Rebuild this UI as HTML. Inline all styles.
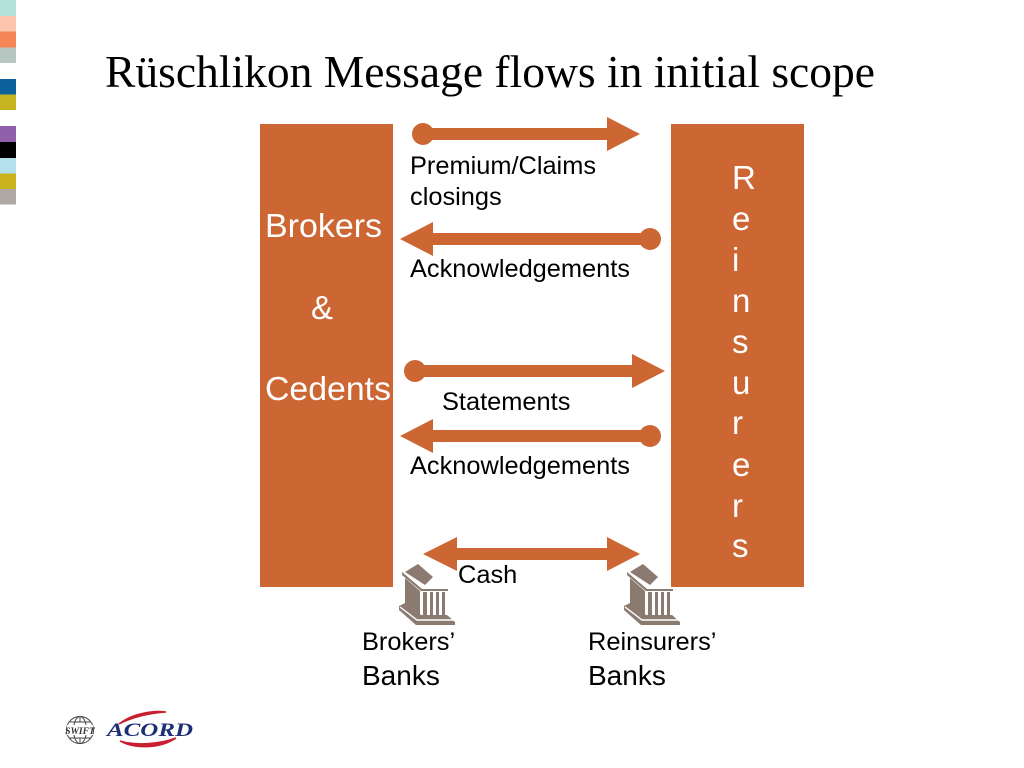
<!DOCTYPE html>
<html lang="en">
<head>
<meta charset="utf-8">
<title>Rüschlikon Message flows in initial scope</title>
<style>
html,body{margin:0;padding:0;background:#fff;width:1024px;height:768px;overflow:hidden}
svg{display:block}
text{font-family:"Liberation Sans",Arial,sans-serif;fill:#000}
.title{font-family:"Liberation Serif","Times New Roman",serif;font-size:46px}
.w{fill:#fff;font-size:33px}
.l{font-size:25.4px}
.b{font-size:28px}
.s{font-size:25.4px}
</style>
</head>
<body>
<svg width="1024" height="768" viewBox="0 0 1024 768" xmlns="http://www.w3.org/2000/svg">
<rect width="1024" height="768" fill="#fff"/>
<!-- side stripes -->
<rect x="0" y="0" width="16" height="16" fill="#b2e2da"/>
<rect x="0" y="16" width="16" height="15.5" fill="#fdc4ae"/>
<rect x="0" y="31.5" width="16" height="16" fill="#f58556"/>
<rect x="0" y="47.5" width="16" height="15.5" fill="#b8c6c2"/>
<rect x="0" y="79" width="16" height="15.5" fill="#0b6199"/>
<rect x="0" y="94.5" width="16" height="15.5" fill="#c5b420"/>
<rect x="0" y="126" width="16" height="16" fill="#9060ab"/>
<rect x="0" y="142" width="16" height="16" fill="#000"/>
<rect x="0" y="158" width="16" height="15.5" fill="#b4e0ee"/>
<rect x="0" y="173.5" width="16" height="15.5" fill="#cbb31d"/>
<rect x="0" y="189" width="16" height="15.5" fill="#b0a8a2"/>

<text class="title" x="105" y="87" textLength="770" lengthAdjust="spacingAndGlyphs">Rüschlikon Message flows in initial scope</text>

<!-- boxes -->
<rect x="260" y="124" width="133" height="463" fill="#cc6633"/>
<rect x="671" y="124" width="133" height="463" fill="#cc6633"/>

<text class="w" x="265" y="237" textLength="117" lengthAdjust="spacingAndGlyphs">Brokers</text>
<text class="w" x="322" y="319" text-anchor="middle">&amp;</text>
<text class="w" x="265" y="400" textLength="126" lengthAdjust="spacingAndGlyphs">Cedents</text>

<text class="w" x="732" y="189">R</text>
<text class="w" x="732" y="230">e</text>
<text class="w" x="732" y="271">i</text>
<text class="w" x="732" y="312">n</text>
<text class="w" x="732" y="353">s</text>
<text class="w" x="732" y="394">u</text>
<text class="w" x="732" y="434">r</text>
<text class="w" x="732" y="476">e</text>
<text class="w" x="732" y="517">r</text>
<text class="w" x="732" y="557">s</text>

<!-- arrows -->
<g fill="#cc6633">
<circle cx="423" cy="134" r="11"/>
<path d="M423 128H607V117L640 134L607 151V140H423Z"/>
<circle cx="650" cy="239" r="11"/>
<path d="M650 233H433V222L400 239L433 256V245H650Z"/>
<circle cx="415" cy="371" r="11"/>
<path d="M415 365H632V354L665 371L632 388V377H415Z"/>
<circle cx="650" cy="436" r="11"/>
<path d="M650 430H433V419L400 436L433 453V442H650Z"/>
<path d="M423 554L457 537V548H607V537L640 554L607 571V560H457V571Z"/>
</g>

<text class="l" x="410" y="174" textLength="186" lengthAdjust="spacingAndGlyphs">Premium/Claims</text>
<text class="l" x="410" y="205">closings</text>
<text class="l" x="410" y="277" textLength="220" lengthAdjust="spacingAndGlyphs">Acknowledgements</text>
<text class="l" x="442" y="410">Statements</text>
<text class="l" x="410" y="474" textLength="220" lengthAdjust="spacingAndGlyphs">Acknowledgements</text>
<text class="l" x="458" y="583">Cash</text>

<!-- bank icons -->
<defs>
<g id="bank">
<path d="M1 9L18 0L34 13L49 27V30H46V52L56 59V62H16L-1 47V42L5 39V14Z" fill="#fff"/>
<path d="M5 9L18 1L33 14L25 22Z" fill="#8a7a70"/>
<path d="M2 9L22 26H48V28H21L2 12Z" fill="#8a7a70"/>
<path d="M5 15L20 28V53L5 41Z" fill="#8a7a70"/>
<path d="M23 29H27V52H23ZM30 29H33V52H30ZM36 29H39V52H36ZM42 29H45V52H42Z" fill="#8a7a70"/>
<path d="M-1 43L5 40L21 52H47L55 59V62H16L-1 47Z" fill="#8a7a70"/>
<path d="M0 44L17 57H54" fill="none" stroke="#fff" stroke-width="1.4"/>
</g>
</defs>
<use href="#bank" x="400" y="563"/>
<use href="#bank" x="625" y="563"/>

<text class="s" x="362" y="650">Brokers’</text>
<text class="b" x="362" y="685">Banks</text>
<text class="s" x="588" y="650">Reinsurers’</text>
<text class="b" x="588" y="685">Banks</text>

<!-- SWIFT globe -->
<g fill="none" stroke="#444" stroke-width="1">
<circle cx="80" cy="730" r="13.5"/>
<ellipse cx="80" cy="730" rx="6.5" ry="13.5"/>
<path d="M80 716.5V722M80 738V743.5M69 722H91M69 738H91"/>
</g>
<rect x="67" y="725" width="26" height="10" fill="#fff"/>
<text x="80" y="734" text-anchor="middle" style="font-family:'Liberation Serif',serif;font-size:9.5px;font-weight:bold;font-style:italic;fill:#333">SWIFT</text>

<!-- ACORD logo -->
<path d="M119 724C130 715 150 710 166 712C150 713 132 717 119 724Z" fill="#c8202f" stroke="#c8202f" stroke-width="1.5"/>
<path d="M120 741C134 749 160 749 176 738C160 744 136 746 120 741Z" fill="#c8202f" stroke="#c8202f" stroke-width="1.5"/>
<text x="107" y="736" textLength="86" lengthAdjust="spacingAndGlyphs" style="font-family:'Liberation Serif',serif;font-size:19px;font-weight:bold;font-style:italic;fill:#1d2f73">ACORD</text>
</svg>
</body>
</html>
